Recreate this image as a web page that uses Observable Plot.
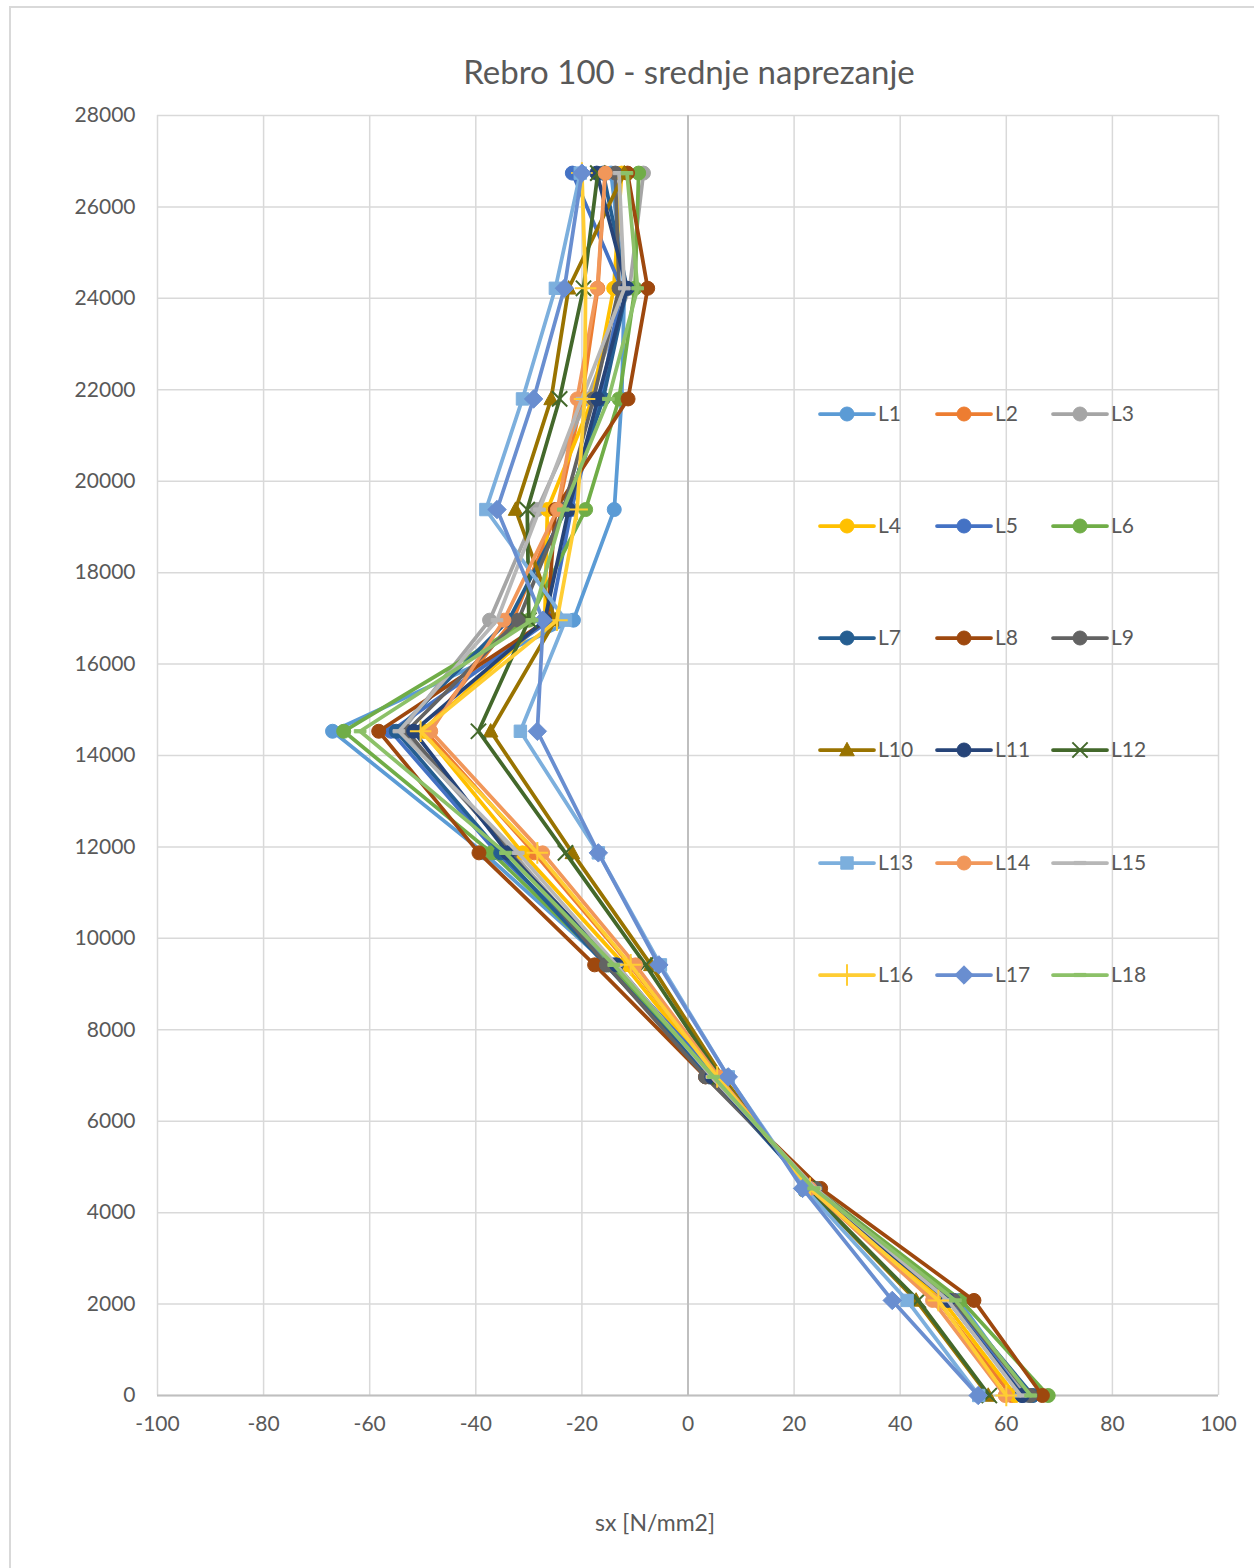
<!DOCTYPE html>
<html>
<head>
<meta charset="utf-8">
<script src="https://cdn.jsdelivr.net/npm/d3@7"></script>
<script src="https://cdn.jsdelivr.net/npm/@observablehq/plot@0.6"></script>
<style>
  html, body { margin: 0; padding: 0; background: #fff; }
  #wrap { position: relative; width: 1254px; height: 1568px; overflow: hidden; font-family: Lato, "Open Sans", sans-serif; color: #595959; }
  #border { position: absolute; left: 9px; top: 6px; width: 1400px; height: 1700px; border: 2px solid #d9d9d9; box-sizing: border-box; }
  #chart { position: absolute; left: 0; top: 0; }
  #title { position: absolute; left: 0; width: 1378px; top: 51px; text-align: center; font-size: 33px; }
  #xlabel { position: absolute; left: 455px; width: 400px; top: 1508px; text-align: center; font-size: 23px; }
  #legend { position: absolute; left: 0; top: 0; pointer-events: none; }
</style>
</head>
<body>
<div id="wrap">
  <div id="border"></div>
  <div id="chart"></div>
  <div id="title">Rebro 100 - srednje naprezanje</div>
  <div id="xlabel">sx [N/mm2]</div>
  <svg id="legend" width="1254" height="1568"></svg>
</div>
<script>
// heights (y) in mm
const heights = [0, 2080, 4530, 6970, 9420, 11870, 14530, 16960, 19380, 21800, 24220, 26740];

// stress sx [N/mm2] per load case, in order of heights
const L1  = [64.0, 51.0, 23.0, 5.0, -15.0, -38.5, -67.0, -21.6, -13.9, -12.5, -12.0, -14.5];
const L2  = [61.0, 47.0, 23.0, 5.5, -11.0, -29.0, -49.5, -33.0, -24.5, -20.0, -17.0, -15.6];
const L3  = [63.6, 49.5, 24.0, 4.0, -14.5, -33.0, -54.0, -37.4, -28.4, -19.0, -11.0, -8.4];
const L4  = [61.7, 48.0, 23.5, 5.0, -12.0, -31.2, -50.0, -27.0, -26.5, -18.0, -14.0, -12.5];
const L5  = [63.0, 50.0, 22.5, 5.5, -14.0, -36.0, -56.0, -26.0, -22.0, -16.5, -12.5, -21.8];
const L6  = [67.9, 51.5, 24.0, 4.5, -15.0, -37.0, -64.9, -30.0, -19.3, -13.0, -10.0, -9.3];
const L7  = [65.0, 50.0, 23.0, 4.0, -15.5, -35.3, -55.0, -33.8, -23.0, -16.0, -11.5, -16.0];
const L8  = [66.8, 53.9, 25.0, 3.3, -17.6, -39.4, -58.3, -26.5, -25.0, -11.3, -7.6, -11.4];
const L9  = [64.5, 50.0, 24.0, 3.3, -15.4, -33.5, -53.0, -32.0, -23.5, -17.8, -13.0, -13.7];
const L10 = [56.6, 43.0, 22.5, 6.5, -7.0, -21.8, -37.2, -25.0, -32.5, -25.8, -22.5, -12.0];
const L11 = [63.0, 49.0, 23.0, 4.5, -13.5, -34.0, -51.7, -27.0, -22.5, -17.0, -11.5, -17.2];
const L12 = [56.8, 43.4, 22.5, 6.0, -8.0, -23.1, -39.5, -30.0, -30.3, -24.2, -19.7, -17.0];
const L13 = [54.8, 41.3, 22.0, 7.6, -5.2, -16.9, -31.6, -23.1, -38.1, -31.2, -25.0, -20.3];
const L14 = [59.8, 46.1, 23.0, 5.8, -9.9, -27.4, -48.5, -34.7, -24.6, -20.9, -17.1, -15.6];
const L15 = [62.7, 49.0, 24.0, 4.5, -13.5, -32.0, -54.5, -36.0, -28.0, -20.0, -12.0, -13.0];
const L16 = [60.0, 47.2, 23.0, 5.5, -10.8, -28.4, -50.4, -24.7, -20.9, -19.5, -19.3, -20.0];
const L17 = [54.7, 38.5, 21.6, 7.6, -5.5, -16.9, -28.4, -27.3, -36.0, -29.1, -23.3, -20.0];
const L18 = [64.6, 50.4, 23.7, 4.8, -14.0, -34.4, -61.8, -29.4, -23.5, -15.0, -9.5, -11.5];

const seriesNames = ["L1","L2","L3","L4","L5","L6","L7","L8","L9","L10","L11","L12","L13","L14","L15","L16","L17","L18"];
const seriesValues = [L1,L2,L3,L4,L5,L6,L7,L8,L9,L10,L11,L12,L13,L14,L15,L16,L17,L18];
const seriesColors = ["#5B9BD5","#ED7D31","#A5A5A5","#FFC000","#4472C4","#70AD47","#255E91","#9E480E","#636363",
                      "#997300","#264478","#43682B","#7CAFDD","#F1975A","#B7B7B7","#FFCD33","#698ED0","#8CC168"];
const seriesMarkers = ["circle","circle","circle","circle","circle","circle","circle","circle","circle",
                       "triangle","circle","times","square","circle","dash","plus","diamond","dash"];

const xTicks = [-100,-80,-60,-40,-20,0,20,40,60,80,100];
const yTicks = [0,2000,4000,6000,8000,10000,12000,14000,16000,18000,20000,22000,24000,26000,28000];

// custom symbols
const dashSym = {draw(ctx, size) { const w = Math.sqrt(size) * 1.1; ctx.moveTo(-w/2, -1.6); ctx.lineTo(w/2, -1.6); ctx.lineTo(w/2, 1.6); ctx.lineTo(-w/2, 1.6); ctx.closePath(); }};
const diamondSym = {draw(ctx, size) { const r = Math.sqrt(size / 2) * 1.05; ctx.moveTo(0, -r); ctx.lineTo(r, 0); ctx.lineTo(0, r); ctx.lineTo(-r, 0); ctx.closePath(); }};
const triSym = {draw(ctx, size) { const r = Math.sqrt(size) * 0.62; ctx.moveTo(0, -r); ctx.lineTo(r * 0.95, r * 0.75); ctx.lineTo(-r * 0.95, r * 0.75); ctx.closePath(); }};

function symbolFor(m) {
  if (m === "dash") return dashSym;
  if (m === "diamond") return diamondSym;
  if (m === "triangle") return triSym;
  return m;
}
const stroked = m => m === "times" || m === "plus";

const rows = seriesNames.flatMap((s, i) => heights.map((h, j) => ({series: s, x: seriesValues[i][j], y: h})));

const marks = [
  Plot.gridX(xTicks, {stroke: "#d9d9d9", strokeOpacity: 1, strokeWidth: 1.5}),
  Plot.gridY(yTicks, {stroke: "#d9d9d9", strokeOpacity: 1, strokeWidth: 1.5}),
  Plot.ruleX([0], {stroke: "#bfbfbf", strokeWidth: 2}),
  Plot.ruleY([0], {stroke: "#bfbfbf", strokeWidth: 2}),
  Plot.axisX(xTicks, {tickSize: 0, tickPadding: 21, tickFormat: d => String(d), fill: "#595959", fontSize: 21}),
  Plot.axisY(yTicks, {tickSize: 0, tickPadding: 22, tickFormat: d => String(d), fill: "#595959", fontSize: 21})
];
seriesNames.forEach((s, i) => {
  const data = rows.filter(r => r.series === s);
  const c = seriesColors[i];
  const m = seriesMarkers[i];
  marks.push(Plot.line(data, {x: "x", y: "y", stroke: c, strokeWidth: 3.75, strokeLinejoin: "round"}));
  if (stroked(m)) {
    marks.push(Plot.dot(data, {x: "x", y: "y", symbol: m, r: 7, fill: "none", stroke: c, strokeWidth: 2}));
  } else {
    marks.push(Plot.dot(data, {x: "x", y: "y", symbol: symbolFor(m), r: m === "dash" ? 6 : 7, fill: c, stroke: c, strokeWidth: 1}));
  }
});

const chart = Plot.plot({
  width: 1254,
  height: 1568,
  marginLeft: 157,
  marginRight: 36,
  marginTop: 115,
  marginBottom: 173,
  style: {fontFamily: "Lato, 'Open Sans', sans-serif", fontSize: "21px", color: "#595959", background: "transparent"},
  x: {domain: [-100, 100], label: null},
  y: {domain: [0, 28000], label: null},
  marks
});
document.getElementById("chart").appendChild(chart);

// legend (3 columns x 6 rows, placed inside the plot area)
const legend = d3.select("#legend");
const colX = [820, 937, 1053];
const rowY = [414, 526, 638, 750, 863, 975];
seriesNames.forEach((s, i) => {
  const x0 = colX[i % 3], yc = rowY[Math.floor(i / 3)];
  const c = seriesColors[i], m = seriesMarkers[i];
  const g = legend.append("g");
  g.append("line").attr("x1", x0).attr("x2", x0 + 54).attr("y1", yc).attr("y2", yc)
    .attr("stroke", c).attr("stroke-width", 3.75).attr("stroke-linecap", "round");
  let type;
  if (m === "circle") type = d3.symbolCircle;
  else if (m === "square") type = d3.symbolSquare;
  else if (m === "times") type = d3.symbolTimes;
  else if (m === "plus") type = d3.symbolPlus;
  else type = symbolFor(m);
  const r = m === "dash" ? 6 : 7;
  const p = g.append("path").attr("transform", `translate(${x0 + 27},${yc})`)
    .attr("d", d3.symbol(type, Math.PI * r * r)());
  if (stroked(m)) p.attr("fill", "none").attr("stroke", c).attr("stroke-width", 2);
  else p.attr("fill", c).attr("stroke", c).attr("stroke-width", 1);
  g.append("text").attr("x", x0 + 58).attr("y", yc).attr("dy", "0.35em")
    .attr("font-family", "Lato, 'Open Sans', sans-serif").attr("font-size", 21).attr("fill", "#595959").text(s);
});
</script>
</body>
</html>
